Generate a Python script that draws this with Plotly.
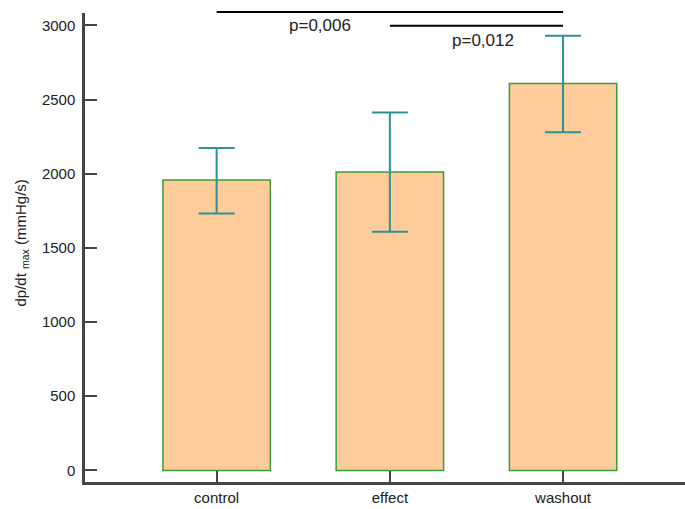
import plotly.graph_objects as go

categories = ["control", "effect", "washout"]
means = [1958, 2012, 2607]
err_plus = [215, 400, 322]
err_minus = [227, 404, 327]

y_ticks = [0, 500, 1000, 1500, 2000, 2500, 3000]
y_range = [-78, 3083]
x_range = [-0.76, 2.704]

# significance comparisons: (from index, to index, line level, label, label x, label y)
sig_from = [0, 1]
sig_to = [2, 2]
sig_level = [3089, 2997]
sig_labels = ["p=0,006", "p=0,012"]
sig_label_x = [0.594, 1.535]
sig_label_y = [2997, 2898]

FONT = "Liberation Sans, Arial, Helvetica, sans-serif"
AXIS_COLOR = "#454545"

fig = go.Figure()
fig.add_trace(go.Bar(
    x=categories, y=means, width=0.62,
    marker=dict(color="#fecb9a", line=dict(color="#3c9c3c", width=1.5)),
    error_y=dict(type="data", symmetric=False, array=err_plus, arrayminus=err_minus,
                 color="#2b9393", thickness=2, width=18),
    showlegend=False,
))

def to_paper(v):
    return (v - y_range[0]) / (y_range[1] - y_range[0])

for a, b, lvl in zip(sig_from, sig_to, sig_level):
    fig.add_shape(type="line", xref="x", yref="paper",
                  x0=categories[a], x1=categories[b], y0=to_paper(lvl), y1=to_paper(lvl),
                  line=dict(color="black", width=2))

for lab, lx, ly in zip(sig_labels, sig_label_x, sig_label_y):
    fig.add_annotation(x=lx, y=ly, xref="x", yref="y", text=lab, showarrow=False,
                       xanchor="center", yanchor="middle",
                       font=dict(family=FONT, size=17, color="#222"))

fig.add_annotation(x=(21 - 85) / 600, y=(482 - 243.5) / 469, xref="paper", yref="paper",
                   text="dp/dt <sub>max</sub> (mmHg/s)", textangle=-90, showarrow=False,
                   xanchor="center", yanchor="middle",
                   font=dict(family=FONT, size=15, color="#222"))

fig.update_layout(
    width=685, height=509,
    margin=dict(l=85, r=0, t=13, b=27),
    paper_bgcolor="white", plot_bgcolor="white",
    font=dict(family=FONT, size=15, color="#222"),
    bargap=0.38,
    xaxis=dict(range=x_range, showline=True, linecolor=AXIS_COLOR, linewidth=2.5,
               ticks="inside", ticklen=11, tickwidth=2, tickcolor=AXIS_COLOR,
               showgrid=False, zeroline=False, tickfont=dict(size=15, color="#222")),
    yaxis=dict(range=y_range, showline=True, linecolor=AXIS_COLOR, linewidth=2.5,
               tickvals=y_ticks, ticks="inside", ticklen=12, tickwidth=2, tickcolor=AXIS_COLOR,
               showgrid=False, zeroline=False, tickfont=dict(size=15, color="#222"),
               ticklabelstandoff=4),
)

fig.write_html("out.html")
